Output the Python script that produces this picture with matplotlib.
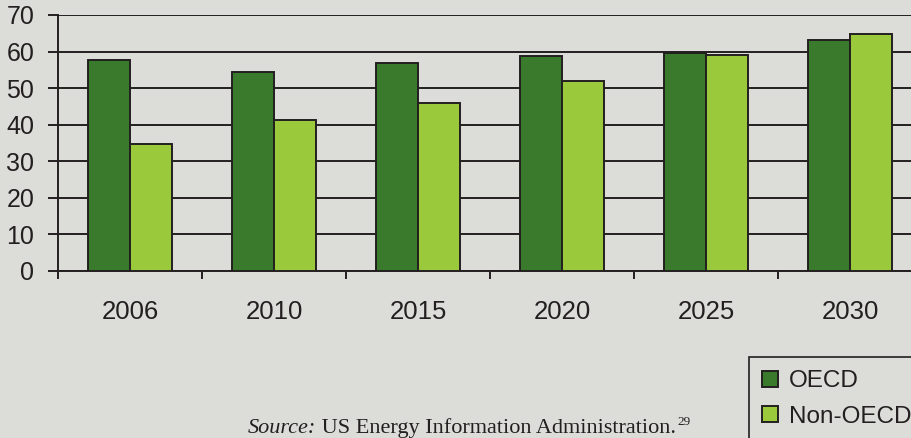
import matplotlib.pyplot as plt
import numpy as np

# Data
years = ["2006", "2010", "2015", "2020", "2025", "2030"]
oecd = [57.8, 54.5, 56.9, 58.9, 59.5, 63.3]
non_oecd = [34.6, 41.4, 45.9, 52.0, 59.0, 64.9]

bg = "#dcddd8"
dark_green = "#397a2c"
light_green = "#9bc93c"
ink = "#231f20"

fig = plt.figure(figsize=(9.11, 4.38), dpi=100, facecolor=bg)
ax = fig.add_axes([58 / 911, 167 / 438, 864 / 911, 256 / 438])
ax.set_facecolor(bg)

x = np.arange(len(years))
w = 0.295
ax.bar(x - w / 2, oecd, w, color=dark_green, edgecolor=ink, linewidth=1.4,
       label="OECD", zorder=3)
ax.bar(x + w / 2, non_oecd, w, color=light_green, edgecolor=ink, linewidth=1.4,
       label="Non-OECD", zorder=3)

ax.set_xlim(-0.5, len(years) - 0.5)
ax.set_ylim(0, 70)
ax.set_yticks(range(0, 71, 10))
ax.yaxis.grid(True, color=ink, linewidth=1.4, zorder=1)

# Category ticks sit between groups
ax.set_xticks(np.arange(len(years) + 1) - 0.5)
ax.set_xticklabels([])
ax.set_xticks(x, minor=True)
ax.set_xticklabels(years, minor=True, fontsize=18.5, color=ink,
                   family="Liberation Sans")
ax.tick_params(axis="x", which="minor", length=0, pad=21)
ax.tick_params(axis="x", which="major", length=6, width=1.4, color=ink)
ax.tick_params(axis="y", length=7, width=1.4, color=ink, pad=10, labelsize=18,
               labelcolor=ink)
for lab in ax.get_yticklabels():
    lab.set_family("Liberation Sans")

for s in ["top", "right"]:
    ax.spines[s].set_visible(False)
for s in ["left", "bottom"]:
    ax.spines[s].set_color(ink)
    ax.spines[s].set_linewidth(1.4)

leg = fig.legend(loc="upper left", bbox_to_anchor=(749 / 911, 1 - 357 / 438),
                 borderaxespad=0, fancybox=False, edgecolor=ink, facecolor=bg,
                 framealpha=1, handlelength=0.65, handleheight=0.65,
                 handletextpad=0.45, borderpad=0.55, labelspacing=0.55,
                 prop={"family": "Liberation Sans", "size": 17.5})
leg.get_frame().set_linewidth(1.2)
for t in leg.get_texts():
    t.set_color(ink)

# Source line: italic lead-in, plain text, superscript note
y_base = 1 - 433 / 438
src = fig.text(248 / 911, y_base, "Source:", fontsize=16, style="italic",
               family="Liberation Serif", color=ink, va="baseline")
fig.canvas.draw()
bb = src.get_window_extent()
rest = fig.text(bb.x1 / fig.bbox.width, y_base,
                " US Energy Information Administration.", fontsize=16,
                family="Liberation Serif", color=ink, va="baseline")
fig.canvas.draw()
bb2 = rest.get_window_extent()
fig.text(bb2.x1 / fig.bbox.width + 0.001, y_base + 8 / 438, "29",
         fontsize=9.5, family="Liberation Serif", color=ink, va="baseline")

fig.savefig("out.png", dpi=100, facecolor=bg)
